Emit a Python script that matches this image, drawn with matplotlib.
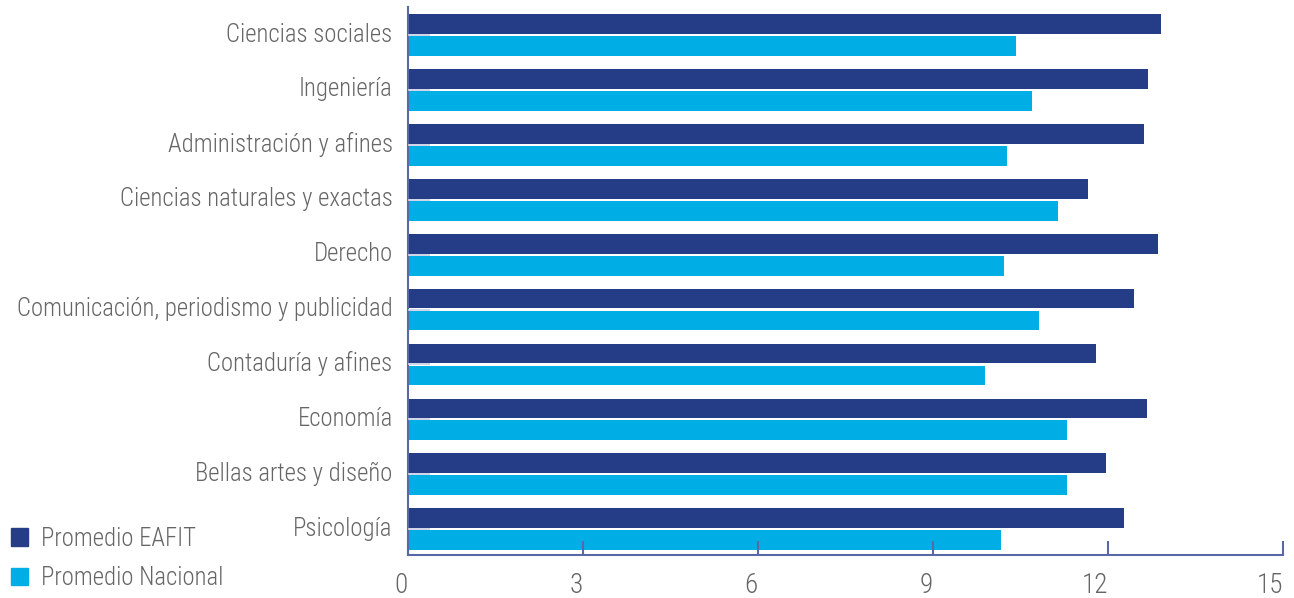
import matplotlib
matplotlib.use('Agg')
import numpy as np
import matplotlib.pyplot as plt
import matplotlib.transforms as mtransforms
from matplotlib.patches import Patch

areas = ['Ciencias sociales', 'Ingeniería', 'Administración y afines',
         'Ciencias naturales y exactas', 'Derecho',
         'Comunicación, periodismo y publicidad', 'Contaduría y afines',
         'Economía', 'Bellas artes y diseño', 'Psicología']
eafit = [12.91, 12.69, 12.62, 11.66, 12.86, 12.45, 11.80, 12.67, 11.97, 12.28]
nacional = [10.42, 10.70, 10.27, 11.14, 10.22, 10.82, 9.89, 11.30, 11.30, 10.17]
xticks = [0, 3, 6, 9, 12, 15]

dark = '#253c87'
light = '#00aee6'
axcol = '#5b68a6'
txtcol = '#666666'

plt.rcParams['font.family'] = ['Roboto Condensed', 'Roboto', 'DejaVu Sans']
plt.rcParams['font.weight'] = 'light'

fig = plt.figure(figsize=(12.94, 5.98), dpi=100)
ax = fig.add_axes([0.3153, 0.0719, 0.6762, 0.9164])

y = np.arange(len(areas))
h = 0.36
ax.barh(y - h / 2 - 0.02, eafit, height=h, color=dark, zorder=2)
ax.barh(y + h / 2 + 0.02, nacional, height=h, color=light, zorder=2)

ax.set_ylim(9.47, -0.51)
ax.set_xlim(0, 15)
ax.set_yticks(y)
ax.set_yticklabels(areas)
ax.set_xticks(xticks)
ax.set_xticklabels([str(t) for t in xticks], ha='right')

for s in ['top', 'right']:
    ax.spines[s].set_visible(False)
for s in ['left', 'bottom']:
    ax.spines[s].set_color(axcol)
    ax.spines[s].set_linewidth(1.5)

ax.set_axisbelow(False)
ax.tick_params(axis='x', direction='in', length=10, width=1.5, color=axcol,
               labelsize=19.5, labelcolor=txtcol, pad=12)
ax.tick_params(axis='y', direction='in', length=16, width=1.2, color='#c9cde3',
               labelsize=17.8, labelcolor=txtcol, pad=11)

# nudge category labels up a little
up = mtransforms.ScaledTranslation(0, 3 / 100, fig.dpi_scale_trans)
for lab in ax.get_yticklabels():
    lab.set_transform(lab.get_transform() + up)

handles = [Patch(color=dark, label='Promedio EAFIT'),
           Patch(color=light, label='Promedio Nacional')]
fig.legend(handles=handles, loc='lower left',
           bbox_to_anchor=(11 / 1294, 8 / 598),
           frameon=False, fontsize=17.8, labelcolor=txtcol,
           handlelength=0.7, handleheight=0.7, handletextpad=0.5,
           labelspacing=0.62, borderaxespad=0, borderpad=0)

fig.savefig('out.png', dpi=100)
